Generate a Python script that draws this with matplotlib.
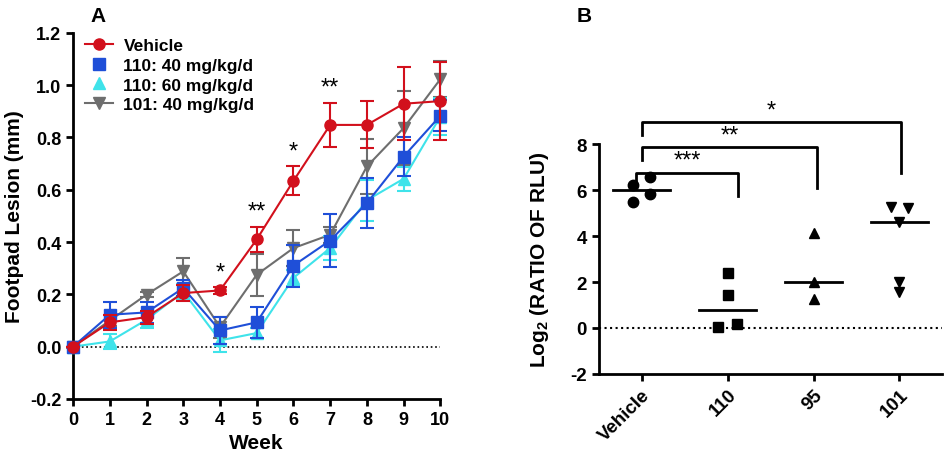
import numpy as np
import matplotlib.pyplot as plt
from matplotlib.lines import Line2D

plt.rcParams['font.family'] = ['Liberation Sans', 'DejaVu Sans']
plt.rcParams['font.weight'] = 'bold'
plt.rcParams['axes.unicode_minus'] = False
plt.rcParams['mathtext.fontset'] = 'custom'
plt.rcParams['mathtext.bf'] = 'Liberation Sans:bold'
plt.rcParams['mathtext.rm'] = 'Liberation Sans:bold'

# Panel A: footpad lesion over weeks
weeks = list(range(11))
vehicle = [0.0, 0.093, 0.113, 0.205, 0.215, 0.41, 0.634, 0.848, 0.848, 0.929, 0.939]
vehicle_err = [0.0, 0.03, 0.025, 0.03, 0.012, 0.048, 0.055, 0.085, 0.09, 0.14, 0.15]
c110_40 = [0.0, 0.122, 0.131, 0.224, 0.062, 0.093, 0.31, 0.406, 0.549, 0.727, 0.883]
c110_40_err = [0.0, 0.05, 0.04, 0.03, 0.05, 0.06, 0.08, 0.1, 0.095, 0.075, 0.06]
c110_60 = [0.0, 0.02, 0.103, 0.21, 0.024, 0.052, 0.263, 0.377, 0.56, 0.642, 0.88]
c110_60_err = [0.0, 0.03, 0.03, 0.03, 0.045, 0.02, 0.03, 0.045, 0.078, 0.045, 0.07]
c101_40 = [0.0, 0.10, 0.199, 0.288, 0.075, 0.275, 0.377, 0.428, 0.689, 0.836, 1.023]
c101_40_err = [0.0, 0.02, 0.01, 0.05, 0.04, 0.08, 0.07, 0.03, 0.105, 0.14, 0.07]
star_weeks = [4, 5, 6, 7]
star_labels = ['*', '**', '*', '**']

# Panel B: log2 ratio of RLU
groups = ['Vehicle', '110', '95', '101']
b_vehicle = [6.22, 6.57, 5.83, 5.48]
b_110 = [2.39, 1.43, 0.17, 0.04]
b_95 = [4.13, 2.0, 1.26]
b_101 = [5.26, 5.22, 4.61, 2.0, 1.57]
b_offsets = [[-0.1, 0.1, 0.1, -0.1], [0, 0, 0.11, -0.11], [0, 0, 0], [-0.1, 0.1, 0, 0, 0]]
b_markers = ['o', 's', '^', 'v']

fig = plt.figure(figsize=(9.49, 4.64), dpi=100)

# ---------- Panel A ----------
ax = fig.add_axes([0.077, 0.138, 0.387, 0.789])
series = [
    (vehicle, vehicle_err, '#D2101C', 'o', 'Vehicle', True),
    (c110_40, c110_40_err, '#1F4FD8', 's', '110: 40 mg/kg/d', False),
    (c110_60, c110_60_err, '#3FE3EA', '^', '110: 60 mg/kg/d', False),
    (c101_40, c101_40_err, '#6E6E6E', 'v', '101: 40 mg/kg/d', True),
]
draw_order = [3, 2, 1, 0]
for i in draw_order:
    y, e, col, m, lab, _ = series[i]
    ax.errorbar(weeks, y, yerr=e, color=col, marker=m, markersize=8,
                linewidth=1.5, elinewidth=1.5, capsize=5, capthick=1.5,
                clip_on=False, zorder=3 + (3 - i))
ax.axhline(0, color='black', linestyle=':', linewidth=1.2, zorder=1)
for w, s in zip(star_weeks, star_labels):
    ax.text(w, vehicle[w] + vehicle_err[w] + 0.015, s, ha='center', va='bottom',
            fontsize=17, fontweight='normal')

ax.set_xlim(0, 10)
ax.set_ylim(-0.2, 1.2)
ax.set_xticks(range(0, 11))
yt = np.arange(-0.2, 1.21, 0.2)
ax.set_yticks(yt)
ax.set_yticklabels([f'{v:.1f}' for v in yt])
ax.set_xlabel('Week', fontsize=15, fontweight='bold', labelpad=4)
ax.set_ylabel('Footpad Lesion (mm)', fontsize=15, fontweight='bold', labelpad=4)
for sp in ['top', 'right']:
    ax.spines[sp].set_visible(False)
for sp in ['left', 'bottom']:
    ax.spines[sp].set_linewidth(2)
ax.tick_params(width=2, length=5, labelsize=13)
for t in ax.get_xticklabels() + ax.get_yticklabels():
    t.set_fontweight('bold')

leg_handles = [Line2D([], [], color=s[2], marker=s[3], markersize=8,
                      linewidth=1.5 if s[5] else 0) for s in series]
leg = ax.legend(leg_handles, [s[4] for s in series],
                loc='upper left', bbox_to_anchor=(0.0, 1.02), frameon=False,
                fontsize=12.5, handlelength=1.6, handletextpad=0.6,
                labelspacing=0.27, borderaxespad=0.3)
for t in leg.get_texts():
    t.set_fontweight('bold')
fig.text(0.095, 0.985, 'A', fontsize=15, fontweight='bold', va='top')

# ---------- Panel B ----------
bx = fig.add_axes([0.631, 0.192, 0.362, 0.495])
data_b = [b_vehicle, b_110, b_95, b_101]
for i, (vals, offs, m) in enumerate(zip(data_b, b_offsets, b_markers)):
    xs = [i + o for o in offs]
    bx.plot(xs, vals, linestyle='none', marker=m, color='black', markersize=7.5,
            clip_on=False, zorder=3)
    med = np.median(vals)
    bx.plot([i - 0.33, i + 0.33], [med, med], color='black', linewidth=2, zorder=2)
bx.axhline(0, color='black', linestyle=':', linewidth=1.5, zorder=1)

# significance brackets: (x_left, x_right, y_top, y_left_end, y_right_end, label)
brackets = [
    (-0.07, 1.125, 6.74, 6.2, 5.74, '***'),
    (0.0, 2.04, 7.87, 7.3, 6.09, '**'),
    (0.0, 3.02, 8.96, 8.39, 6.74, '*'),
]
for x0, x1, ytop, yl, yr, lab in brackets:
    bx.plot([x0, x0, x1, x1], [yl, ytop, ytop, yr], color='black', linewidth=2,
            clip_on=False, zorder=4)
    bx.text((x0 + x1) / 2, ytop + 0.05, lab, ha='center', va='bottom',
            fontsize=17, fontweight='normal', clip_on=False)

bx.set_xlim(-0.5, 3.5)
bx.set_ylim(-2, 8)
bx.set_yticks([-2, 0, 2, 4, 6, 8])
bx.set_xticks(range(4))
bx.set_xticklabels(groups, rotation=45, ha='right', rotation_mode='anchor')
bx.set_ylabel(r'Log$_\mathbf{2}$ (RATIO OF RLU)', fontsize=15, fontweight='bold',
              labelpad=14)
for sp in ['top', 'right']:
    bx.spines[sp].set_visible(False)
for sp in ['left', 'bottom']:
    bx.spines[sp].set_linewidth(2)
bx.tick_params(width=2, length=5, labelsize=13.5)
for t in bx.get_xticklabels() + bx.get_yticklabels():
    t.set_fontweight('bold')
fig.text(0.608, 0.985, 'B', fontsize=15, fontweight='bold', va='top')

fig.savefig('out.png', dpi=100)
